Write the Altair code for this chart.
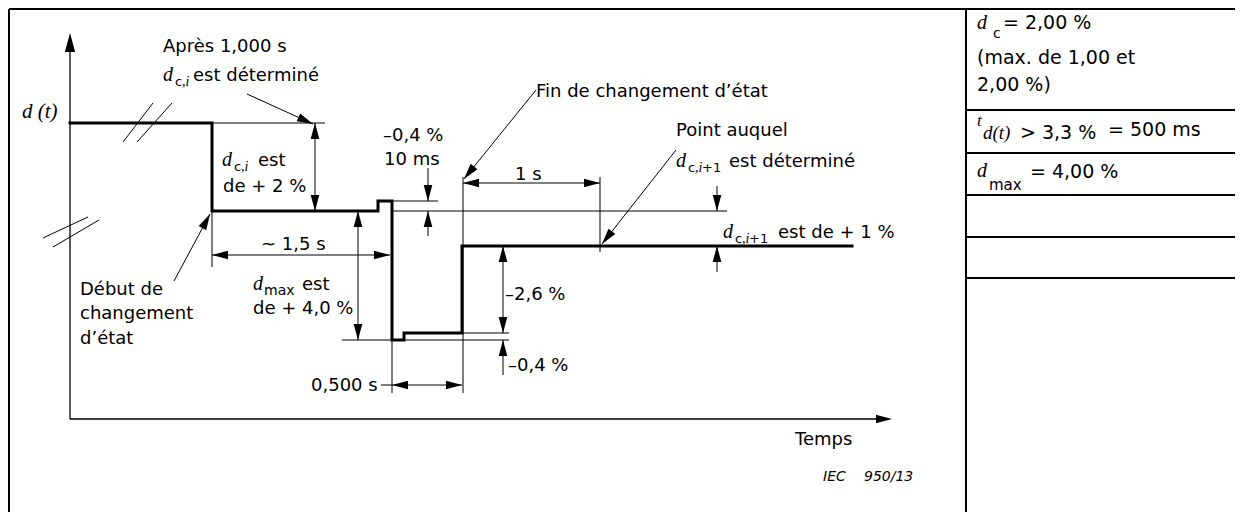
import math
import altair as alt
import pandas as pd

# Diagram units: 1 unit = 1 px of the original figure (x to the right, y downwards)

# ---- step response d(t) ----
signal_t = [70, 212, 212, 378, 378, 392, 392, 404, 404, 462, 462, 852]
signal_d = [123, 123, 211, 211, 201, 201, 340, 340, 333, 333, 246, 246]

# ---- construction lines (x1, y1, x2, y2, width) ----
seg_x1 = [9, 9, 966, 966, 966, 966, 966, 966,
          70, 70,
          123, 137, 43, 53, 212, 315, 247, 212, 212, 358, 342, 462, 392, 392,
          428, 428, 463, 536, 463, 600, 676, 717, 717, 503, 503, 392, 381, 174]
seg_y1 = [9, 9, 9, 110, 153, 195, 237, 278,
          419, 419,
          142, 142, 238, 247, 123, 123, 94, 211, 255, 211, 340, 333, 211, 201,
          168, 211, 177, 90, 183, 177, 150, 186, 246, 246, 340, 340, 385, 281]
seg_x2 = [1235, 9, 966, 1235, 1235, 1235, 1235, 1235,
          70, 880,
          153, 172, 88, 99, 325, 315, 313, 212, 390, 358, 509, 509, 727, 438,
          428, 428, 463, 464, 600, 600, 602, 717, 717, 503, 503, 392, 462, 210]
seg_y2 = [9, 512, 512, 110, 153, 195, 237, 278,
          45, 419,
          103, 103, 217, 220, 123, 211, 124, 267, 255, 340, 340, 333, 211, 201,
          201, 236, 393, 179, 183, 252, 244, 211, 272, 333, 375, 393, 385, 214]
seg_w = [2, 2, 2, 2, 2, 2, 2, 2,
         1.3, 1.3] + [1] * 28

# ---- arrow heads: tip point and the point the arrow comes from ----
arr_x = [70, 892, 315, 315, 313, 212, 390, 358, 358, 428, 428, 464, 463, 600,
         602, 717, 717, 503, 503, 503, 392, 462, 210]
arr_y = [33, 419, 123, 211, 124, 255, 255, 211, 340, 201, 211, 179, 183, 183,
         244, 211, 246, 246, 333, 340, 385, 385, 214]
arr_fx = [70, 800, 315, 315, 247, 300, 300, 358, 358, 428, 428, 536, 530, 530,
          676, 717, 717, 503, 503, 503, 430, 430, 174]
arr_fy = [200, 419, 170, 170, 94, 255, 255, 280, 280, 170, 236, 90, 183, 183,
          150, 186, 272, 290, 290, 375, 385, 385, 281]
arr_len = [19, 16] + [16] * 21

# ---- texts ----
sans_text = ["Après 1,000 s", "c", "est déterminé", "c", "est", "de + 2 %",
             "–0,4 %", "10 ms", "Fin de changement d’état", "1 s",
             "Point auquel", "c", "+1", "est déterminé",
             "c", "+1", "est de + 1 %", "~ 1,5 s", "max", "est", "de + 4,0 %",
             "Début de", "changement", "d’état", "–2,6 %", "–0,4 %", "0,500 s",
             "Temps",
             "c", "= 2,00 %", "(max. de 1,00 et", "2,00 %)", "> 3,3 %",
             "= 500 ms", "max", "= 4,00 %"]
sans_x = [163, 175, 193, 234, 258, 223,
          383, 384, 536, 515,
          676, 688, 702, 729,
          735, 749, 778, 261, 264, 302, 253,
          80, 80, 80, 505, 508, 311,
          795,
          993, 1003, 977, 977, 1020,
          1108, 989, 1030]
sans_y = [52, 86, 81, 171, 166, 192,
          141, 165, 97, 180,
          136, 172, 172, 167,
          243, 243, 238, 250, 295, 290, 314,
          295, 319, 344, 300, 371, 391,
          445,
          38, 29, 64, 91, 139,
          136, 190, 178]
sans_size = [18, 13, 18, 13, 18, 18,
             18, 18, 18, 18,
             18, 13, 13, 18,
             13, 13, 18, 18, 14, 18, 18,
             18, 18, 18, 18, 18, 18,
             18,
             14, 19, 19, 19, 19,
             19, 15, 19]

serif_text = ["d (t)", "d", ",i", "d", ",i", "d", ",i", "d", ",i", "d",
              "d", "t", "d(t)", "d"]
serif_x = [22, 163, 182, 222, 241, 676, 695, 723, 742, 253,
           977, 977, 983, 977]
serif_y = [118, 81, 86, 166, 171, 167, 172, 238, 243, 290,
           29, 126, 139, 177]
serif_size = [21, 20, 14, 20, 14, 20, 14, 20, 14, 20,
              20, 17, 19, 20]

italic_text = ["IEC", "950/13"]
italic_x = [823, 864]
italic_y = [481, 481]

# ---------------- build tables ----------------
sig_df = pd.DataFrame({"t": signal_t, "d": signal_d, "i": range(len(signal_t))})
seg_df = pd.DataFrame({"x1": seg_x1, "y1": seg_y1, "x2": seg_x2, "y2": seg_y2, "w": seg_w})
angles = [(math.degrees(math.atan2(tx - fx, -(ty - fy))) + 360) % 360
          for tx, ty, fx, fy in zip(arr_x, arr_y, arr_fx, arr_fy)]
arr_df = pd.DataFrame({"x": arr_x, "y": arr_y, "angle": angles,
                       "size": [(2 * L) ** 2 for L in arr_len]})
sans_df = pd.DataFrame({"text": sans_text, "x": sans_x, "y": sans_y, "size": sans_size})
serif_df = pd.DataFrame({"text": serif_text, "x": serif_x, "y": serif_y, "size": serif_size})
ital_df = pd.DataFrame({"text": italic_text, "x": italic_x, "y": italic_y})

W, H = 1227, 504
xs = alt.Scale(domain=[8, 8 + W], nice=False, zero=False)
ys = alt.Scale(domain=[8, 8 + H], nice=False, zero=False, reverse=True)


def X(f):
    return alt.X(f, scale=xs, axis=None)


def Y(f):
    return alt.Y(f, scale=ys, axis=None)


rules = alt.Chart(seg_df).mark_rule(color="black", strokeCap="butt").encode(
    x=X("x1:Q"), y=Y("y1:Q"), x2="x2:Q", y2="y2:Q",
    strokeWidth=alt.StrokeWidth("w:Q", scale=None),
)

signal = alt.Chart(sig_df).mark_line(
    color="black", strokeWidth=3, strokeJoin="miter", strokeCap="square"
).encode(x=X("t:Q"), y=Y("d:Q"), order="i:Q")

ARROW = "M0,0L0.27,1L-0.27,1Z"
arrows = alt.Chart(arr_df).mark_point(
    shape=ARROW, filled=True, color="black", opacity=1, strokeWidth=0
).encode(
    x=X("x:Q"), y=Y("y:Q"),
    angle=alt.Angle("angle:Q", scale=None),
    size=alt.Size("size:Q", scale=None),
)

sans = alt.Chart(sans_df).mark_text(
    align="left", baseline="alphabetic", font="DejaVu Sans", color="black"
).encode(x=X("x:Q"), y=Y("y:Q"), text="text:N", size=alt.Size("size:Q", scale=None))

serif = alt.Chart(serif_df).mark_text(
    align="left", baseline="alphabetic", font="Liberation Serif",
    fontStyle="italic", color="black"
).encode(x=X("x:Q"), y=Y("y:Q"), text="text:N", size=alt.Size("size:Q", scale=None))

ital = alt.Chart(ital_df).mark_text(
    align="left", baseline="alphabetic", font="DejaVu Sans", fontStyle="italic",
    fontSize=14, color="black"
).encode(x=X("x:Q"), y=Y("y:Q"), text="text:N")

chart = alt.layer(rules, signal, arrows, sans, serif, ital).properties(
    width=W, height=H, padding=0,
    autosize=alt.AutoSizeParams(type="none"),
    background="white",
).configure_view(stroke=None)

chart.save("out.html", embed_options={"renderer": "svg", "actions": False})
